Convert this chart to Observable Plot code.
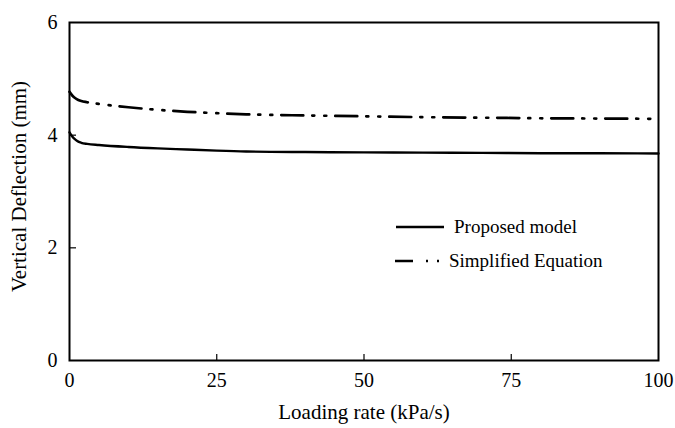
<!DOCTYPE html>
<html>
<head>
<meta charset="utf-8">
<script src="https://cdn.jsdelivr.net/npm/d3@7"></script>
<script src="https://cdn.jsdelivr.net/npm/@observablehq/plot@0.6"></script>
<style>
  html, body { margin: 0; padding: 0; background: #fff; }
  #wrap { position: relative; width: 675px; height: 428px; }
  #legend { position: absolute; left: 0; top: 0; font-family: "Liberation Serif", serif; font-size: 19px; color: #000; }
  .row { position: absolute; display: flex; align-items: center; white-space: nowrap; line-height: 20px; }
  .row svg { display: block; }
</style>
</head>
<body>
<div id="wrap"></div>
<script>
// Data
const loadingRate = [0, 0.5, 1, 1.5, 2, 3, 5, 10, 15, 20, 25, 30, 40, 50, 60, 70, 80, 90, 100];
const proposedModel = [4.05, 3.97, 3.92, 3.885, 3.865, 3.845, 3.825, 3.79, 3.765, 3.745, 3.725, 3.71, 3.70, 3.695, 3.69, 3.685, 3.68, 3.68, 3.675];
const simplifiedEquation = [4.77, 4.70, 4.655, 4.625, 4.605, 4.585, 4.555, 4.495, 4.45, 4.415, 4.39, 4.37, 4.35, 4.335, 4.32, 4.31, 4.30, 4.295, 4.29];
const xTicks = [0, 25, 50, 75, 100];
const yTicks = [0, 2, 4, 6];
const seriesNames = ["Proposed model", "Simplified Equation"];

const rows = [];
loadingRate.forEach((x, i) => {
  rows.push({x, y: proposedModel[i], s: seriesNames[0]});
  rows.push({x, y: simplifiedEquation[i], s: seriesNames[1]});
});

const font = "Liberation Serif";
const chart = Plot.plot({
  width: 675,
  height: 428,
  marginLeft: 69,
  marginRight: 17,
  marginTop: 22,
  marginBottom: 68,
  style: {fontFamily: "'Liberation Serif', serif", fontSize: "20px", color: "#000", background: "#fff"},
  x: {domain: [0, 100]},
  y: {domain: [0, 6]},
  marks: [
    Plot.axisX(xTicks, {tickSize: 0, tickPadding: 12, fontSize: 20, fontFamily: font, tickFormat: d => String(d), label: null}),
    Plot.axisX(xTicks.slice(1, -1), {tickSize: -6, tickFormat: () => "", strokeWidth: 1.2, label: null}),
    Plot.axisY(yTicks, {tickSize: 0, tickPadding: 12, fontSize: 20, fontFamily: font, tickFormat: d => String(d), label: null}),
    Plot.axisY(yTicks.slice(1, -1), {tickSize: -7, tickFormat: () => "", strokeWidth: 1.2, label: null}),
    Plot.text(["Loading rate (kPa/s)"], {frameAnchor: "bottom", dy: 58, fontSize: 21, fontFamily: font}),
    Plot.text(["Vertical Deflection (mm)"], {frameAnchor: "left", textAnchor: "middle", dx: -50, dy: -5, rotate: -90, fontSize: 21, fontFamily: font}),
    Plot.line(rows.filter(d => d.s === seriesNames[0]), {x: "x", y: "y", stroke: "#000", strokeWidth: 2.4, curve: "monotone-x"}),
    Plot.line(rows.filter(d => d.s === seriesNames[1]), {x: "x", y: "y", stroke: "#000", strokeWidth: 2.7, strokeDasharray: "22,9,2,10,2,9", curve: "monotone-x"}),
    Plot.frame({stroke: "#000", strokeWidth: 2})
  ]
});

const wrap = document.getElementById("wrap");
wrap.appendChild(chart);

// Legend overlay
const legend = document.createElement("div");
legend.id = "legend";
const items = [
  {name: seriesNames[0], dash: null, w: 2.6, left: 396, top: 227, lineW: 48, gap: 10},
  {name: seriesNames[1], dash: "18,13,2,9,2,40", w: 2.7, left: 395, top: 261, lineW: 44, gap: 10}
];
items.forEach(it => {
  const row = document.createElement("div");
  row.className = "row";
  row.style.left = it.left + "px";
  row.style.top = (it.top - 10) + "px";
  row.style.height = "20px";
  const svg = d3.create("svg").attr("width", it.lineW).attr("height", 8).style("margin-right", it.gap + "px");
  svg.append("line").attr("x1", 0).attr("x2", it.lineW).attr("y1", 4).attr("y2", 4)
    .attr("stroke", "#000").attr("stroke-width", it.w)
    .attr("stroke-dasharray", it.dash);
  row.appendChild(svg.node());
  const t = document.createElement("span");
  t.textContent = it.name;
  row.appendChild(t);
  legend.appendChild(row);
});
wrap.appendChild(legend);
</script>
</body>
</html>
